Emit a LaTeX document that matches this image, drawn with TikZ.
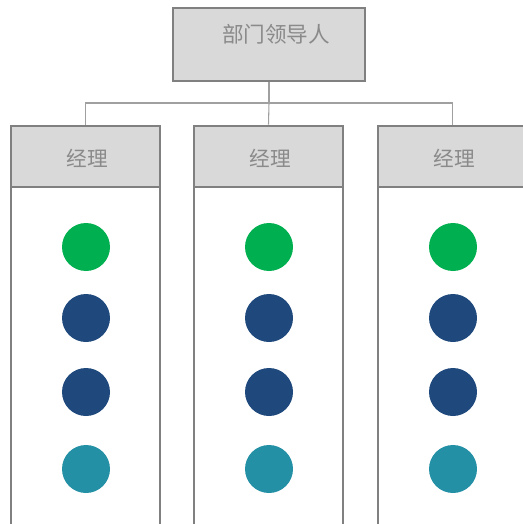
\documentclass[tikz,border=0pt]{standalone}
\usepackage{fontspec}
\newfontfamily\cjk{Noto Sans CJK SC}
\definecolor{boxgray}{HTML}{D9D9D9}
\definecolor{edgegray}{HTML}{808080}
\definecolor{linegray}{HTML}{A0A0A0}
\definecolor{textgray}{HTML}{8A8A8A}
\definecolor{dotgreen}{HTML}{00B050}
\definecolor{dotblue}{HTML}{1F497D}
\definecolor{dotteal}{HTML}{2490A5}
\tikzset{
  headbox/.style={draw=edgegray, fill=boxgray, line width=2pt, inner sep=0pt},
  colbox/.style={draw=edgegray, line width=2pt},
  caption/.style={text=textgray, font=\cjk\fontsize{15.5}{18}\selectfont, inner sep=0pt},
  link/.style={draw=linegray, line width=0.8pt},
  dot/.style={circle, inner sep=0pt, minimum size=36pt},
}
\begin{document}
\begin{tikzpicture}[x=0.75pt, y=-0.75pt]
      \useasboundingbox (0,0) rectangle (523,524);
      \clip (0,0) rectangle (523,524);

      % top box
      \node[headbox, minimum width=144pt, minimum height=54.75pt] (boss) at (269,44.5) {};
      \node[caption, font=\cjk\fontsize{16.2}{19}\selectfont] (bosstxt) at (276,34) {部门领导人};

      % column bodies
      \draw[colbox] (11,187) rectangle (160,540);
      \draw[colbox] (194,187) rectangle (343,540);
      \draw[colbox] (378,187) rectangle (527,540);

      % column heads
      \node[headbox, minimum width=111.75pt, minimum height=45.75pt] (mgrA) at (85.5,156.5) {};
      \node[headbox, minimum width=111.75pt, minimum height=45.75pt] (mgrB) at (268.5,156.5) {};
      \node[headbox, minimum width=111.75pt, minimum height=45.75pt] (mgrC) at (452.5,156.5) {};
      \node[caption] (mgrAtxt) at (87,158) {经理};
      \node[caption] (mgrBtxt) at (270,158) {经理};
      \node[caption] (mgrCtxt) at (454,158) {经理};

      % connectors
      \coordinate (bus) at (269,103);
      \draw[link] (boss.south) -- (boss.south |- bus);
      \draw[link] (boss.south |- bus) -| (mgrA.north);
      \draw[link] (boss.south |- bus) -- (mgrB.north);
      \draw[link] (boss.south |- bus) -| (mgrC.north);

      % dots
      \node[dot, fill=dotgreen] (a1) at (86,247) {};
      \node[dot, fill=dotblue]  (a2) at (86,318) {};
      \node[dot, fill=dotblue]  (a3) at (86,392) {};
      \node[dot, fill=dotteal]  (a4) at (86,469) {};

      \node[dot, fill=dotgreen] (b1) at (269,247) {};
      \node[dot, fill=dotblue]  (b2) at (269,318) {};
      \node[dot, fill=dotblue]  (b3) at (269,392) {};
      \node[dot, fill=dotteal]  (b4) at (269,469) {};

      \node[dot, fill=dotgreen] (c1) at (453,247) {};
      \node[dot, fill=dotblue]  (c2) at (453,318) {};
      \node[dot, fill=dotblue]  (c3) at (453,392) {};
      \node[dot, fill=dotteal]  (c4) at (453,469) {};
    \end{tikzpicture}
\end{document}
